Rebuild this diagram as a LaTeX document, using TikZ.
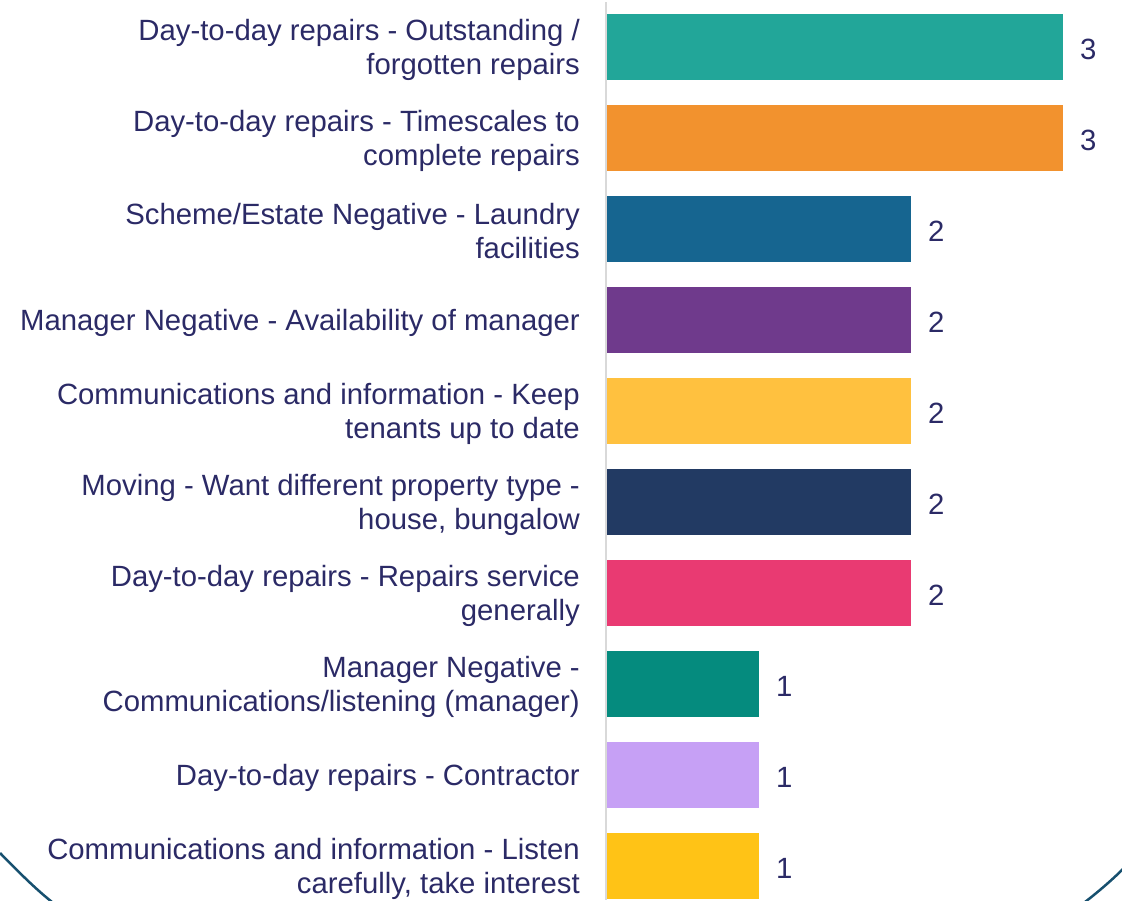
\documentclass[tikz,border=0pt]{standalone}
\usepackage{fontspec}
\setmainfont{Liberation Sans}
\definecolor{txt}{HTML}{2B2A66}
\definecolor{axisgray}{HTML}{D9D9D9}
\definecolor{arcblue}{HTML}{17506F}
\definecolor{c1}{HTML}{22A699}
\definecolor{c2}{HTML}{F2922E}
\definecolor{c3}{HTML}{166590}
\definecolor{c4}{HTML}{6F3A8C}
\definecolor{c5}{HTML}{FFC13F}
\definecolor{c6}{HTML}{223A63}
\definecolor{c7}{HTML}{E93A72}
\definecolor{c8}{HTML}{058B7E}
\definecolor{c9}{HTML}{C6A0F5}
\definecolor{c10}{HTML}{FFC316}
\begin{document}
\begin{tikzpicture}[x=1pt,y=-1pt,
  lbl/.style={anchor=east,align=right,text=txt,inner sep=0pt,font=\fontsize{29.3}{34}\selectfont},
  val/.style={anchor=west,text=txt,inner sep=0pt,font=\fontsize{29.3}{34}\selectfont}]
\useasboundingbox (0,0) rectangle (1122,900);
\draw[arcblue,line width=2.5pt] (0,853) .. controls (15,868) and (32,886) .. (52,902);
\draw[arcblue,line width=2.5pt] (1124,868) .. controls (1112,880) and (1098,892) .. (1085,902);
\foreach \i/\v/\c/\t in {
 0/3/c1/{Day-to-day repairs - Outstanding /\\forgotten repairs},
 1/3/c2/{Day-to-day repairs - Timescales to\\complete repairs},
 2/2/c3/{Scheme/Estate Negative - Laundry\\facilities},
 3/2/c4/{Manager Negative - Availability of manager},
 4/2/c5/{Communications and information - Keep\\tenants up to date},
 5/2/c6/{Moving - Want different property type -\\house, bungalow},
 6/2/c7/{Day-to-day repairs - Repairs service\\generally},
 7/1/c8/{Manager Negative -\\Communications/listening (manager)},
 8/1/c9/{Day-to-day repairs - Contractor},
 9/1/c10/{Communications and information - Listen\\carefully, take interest}} {
  \pgfmathsetmacro{\top}{14+91*\i}
  \pgfmathsetmacro{\w}{152*\v}
  \fill[\c] (607,\top) rectangle ++(\w,66);
  \node[lbl] (l\i) at (580,\top+35.5) {\t};
  \node[val] (v\i) at (607+\w+17,\top+35.5) {\v};
}
\draw[axisgray,line width=2pt] (606,2) -- (606,900);
\end{tikzpicture}
\end{document}
